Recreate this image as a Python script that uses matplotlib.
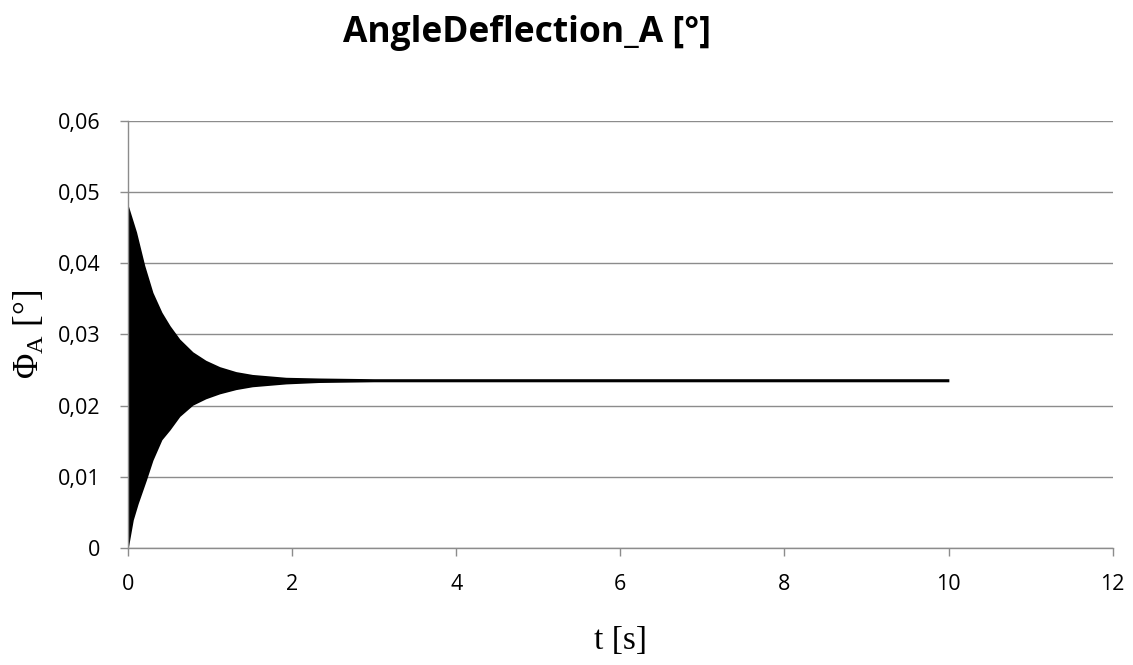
import matplotlib.pyplot as plt
from matplotlib.ticker import FuncFormatter

plt.rcParams['mathtext.fontset'] = 'custom'
plt.rcParams['mathtext.rm'] = 'Liberation Serif'
plt.rcParams['mathtext.it'] = 'Liberation Serif:italic'

# envelope of the oscillating signal
t_up = [0.0, 0.10, 0.20, 0.30, 0.41, 0.51, 0.63, 0.79, 0.95, 1.12, 1.32, 1.52, 1.93, 2.33, 3.0, 5.0, 10.0]
upper = [0.0480, 0.0443, 0.0396, 0.0358, 0.0330, 0.0311, 0.0292, 0.0274, 0.0262, 0.0253, 0.0246, 0.0242,
         0.0238, 0.0237, 0.0236, 0.0236, 0.0236]
t_lo = [0.0, 0.06, 0.12, 0.22, 0.30, 0.41, 0.51, 0.63, 0.79, 0.95, 1.12, 1.32, 1.52, 1.93, 2.33, 3.0, 5.0, 10.0]
lower = [0.0, 0.0039, 0.0062, 0.0095, 0.0123, 0.0152, 0.0166, 0.0185, 0.0201, 0.0210, 0.0217, 0.0223,
         0.0227, 0.0231, 0.0233, 0.0234, 0.0234, 0.0234]

fig = plt.figure(figsize=(11.33, 6.65), dpi=100)
ax = fig.add_axes([0.113, 0.176, 0.869, 0.642])

# outline of the band: upper edge forward, lower edge back
ax.fill(t_up + t_lo[::-1], upper + lower[::-1], color='black', edgecolor='black', linewidth=1.2)

ax.set_xlim(0, 12)
ax.set_ylim(0, 0.06)
ax.set_xticks(range(0, 13, 2))
ax.set_yticks([0, 0.01, 0.02, 0.03, 0.04, 0.05, 0.06])
ax.yaxis.set_major_formatter(FuncFormatter(lambda v, p: '0' if v == 0 else ('%.2f' % v).replace('.', ',')))

ax.grid(axis='y', color='#8c8c8c', linewidth=1)
ax.set_axisbelow(True)
for s in ['top', 'right']:
    ax.spines[s].set_visible(False)
for s in ['left', 'bottom']:
    ax.spines[s].set_color('#8c8c8c')
    ax.spines[s].set_linewidth(1)
ax.tick_params(colors='#8c8c8c', labelcolor='black', length=6, width=1, labelsize=15.5)
for lab in ax.get_xticklabels() + ax.get_yticklabels():
    lab.set_fontfamily('Open Sans')
ax.tick_params(axis='x', pad=13)
ax.tick_params(axis='y', pad=14)

fig.text(0.465, 0.978, 'AngleDeflection_A [°]', ha='center', va='top',
         fontsize=25.5, fontweight='bold', family='Open Sans')
ax.set_xlabel('t [s]', fontsize=24, family='Liberation Serif', labelpad=22)
ax.set_ylabel(r'$\Phi_{\mathrm{A}}$ [°]', fontsize=25, family='Liberation Serif', labelpad=8)

fig.savefig('out.png', dpi=100)
